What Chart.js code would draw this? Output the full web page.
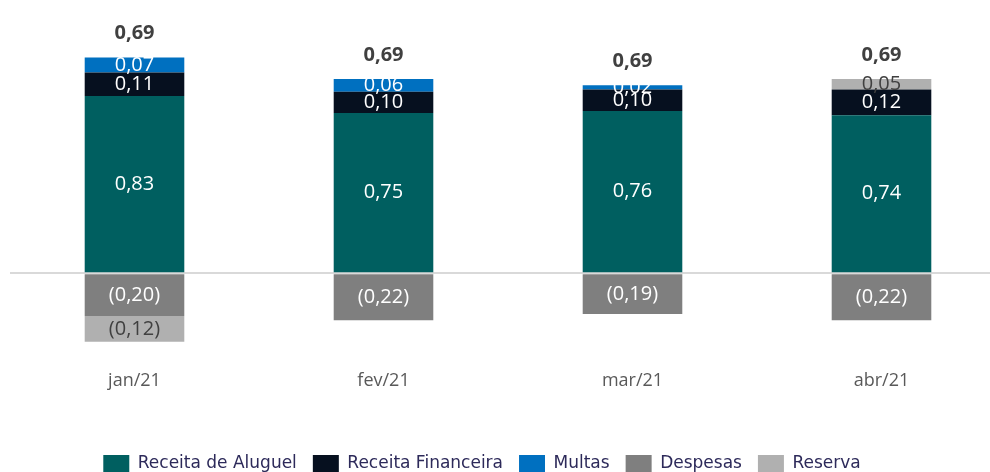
<!DOCTYPE html>
<html>
<head>
<meta charset="utf-8">
<script src="https://cdn.jsdelivr.net/npm/chart.js@4"></script>
<style>
  html, body { margin: 0; padding: 0; background: #ffffff; overflow: hidden; }
  #wrap { width: 1010px; height: 472px; }
</style>
</head>
<body>
<div id="wrap"><canvas id="myChart"></canvas></div>
<script>
// Chart Data
var categories = ['jan/21', 'fev/21', 'mar/21', 'abr/21'];
var receitaAluguel = [0.83, 0.75, 0.76, 0.74];
var receitaFinanceira = [0.11, 0.10, 0.10, 0.12];
var multas = [0.07, 0.06, 0.02, null];
var despesas = [-0.20, -0.22, -0.19, -0.22];
var reserva = [-0.12, null, null, 0.05];

function fmt(v) {
    var s = Math.abs(v).toFixed(2).replace('.', ',');
    return v < 0 ? '(' + s + ')' : s;
}

// draws the value inside each segment and the net total above each bar
var labelPlugin = {
    id: 'segmentLabels',
    afterLayout: function(chart) {
        // nudge the legend a bit left and down
        var lg = chart.legend;
        lg.left -= 26; lg.right -= 26;
        lg.top += 11; lg.bottom += 11;
    },
    afterDatasetsDraw: function(chart) {
        var c = chart.ctx;
        c.save();
        c.textAlign = 'center';
        c.textBaseline = 'middle';
        chart.data.datasets.forEach(function(ds, i) {
            var meta = chart.getDatasetMeta(i);
            meta.data.forEach(function(bar, j) {
                var v = ds.data[j];
                if (v === null || v === undefined) return;
                c.font = '20px "Open Sans"';
                c.fillStyle = ds.labelColor;
                c.fillText(fmt(v), bar.x, (bar.y + bar.base) / 2);
            });
        });
        // totals
        categories.forEach(function(cat, j) {
            var total = 0;
            var top = chart.scales.y.getPixelForValue(0);
            var x = 0;
            chart.data.datasets.forEach(function(ds, i) {
                var v = ds.data[j];
                if (v === null || v === undefined) return;
                total += v;
                var bar = chart.getDatasetMeta(i).data[j];
                x = bar.x;
                if (v > 0) top = Math.min(top, bar.y);
            });
            c.font = 'bold 20px "Open Sans"';
            c.fillStyle = '#404040';
            c.fillText(fmt(total), x, top - 24);
        });
        c.restore();
    }
};

var data = {
    labels: categories,
    datasets: [
        { label: 'Receita de Aluguel', data: receitaAluguel, backgroundColor: '#005f60', labelColor: '#ffffff' },
        { label: 'Receita Financeira', data: receitaFinanceira, backgroundColor: '#06101f', labelColor: '#ffffff' },
        { label: 'Multas', data: multas, backgroundColor: '#0070c0', labelColor: '#ffffff' },
        { label: 'Despesas', data: despesas, backgroundColor: '#7f7f7f', labelColor: '#ffffff' },
        { label: 'Reserva', data: reserva, backgroundColor: '#b0b0b0', labelColor: '#404040' }
    ]
};

var options = {
    responsive: true,
    maintainAspectRatio: false,
    animation: false,
    layout: { padding: { top: 17, left: 10, right: 4, bottom: 0 } },
    datasets: {
        bar: { barPercentage: 0.4, categoryPercentage: 1.0 }
    },
    plugins: {
        tooltip: { enabled: false },
        legend: {
            position: 'bottom',
            labels: {
                boxWidth: 26,
                boxHeight: 18,
                padding: 16,
                color: '#2d2a5a',
                font: { family: '"DejaVu Sans"', size: 17 }
            }
        }
    },
    scales: {
        x: {
            stacked: true,
            grid: { display: false, drawTicks: false },
            border: { display: false },
            ticks: { color: '#595959', padding: 7, font: { family: '"Open Sans"', size: 18 } },
            afterFit: function(scale) { scale.height = 65; }
        },
        y: {
            stacked: true,
            min: -0.42,
            max: 1.2,
            ticks: { display: false },
            border: { display: false },
            grid: {
                drawTicks: false,
                lineWidth: 2,
                color: function(ctx) { return ctx.tick && ctx.tick.value === 0 ? '#d9d9d9' : 'rgba(0,0,0,0)'; }
            },
            afterBuildTicks: function(scale) { scale.ticks = [{ value: 0 }]; }
        }
    }
};

var ctx = document.getElementById('myChart').getContext('2d');
var myChart = new Chart(ctx, {
    type: 'bar',
    data: data,
    options: options,
    plugins: [labelPlugin]
});
</script>
</body>
</html>
